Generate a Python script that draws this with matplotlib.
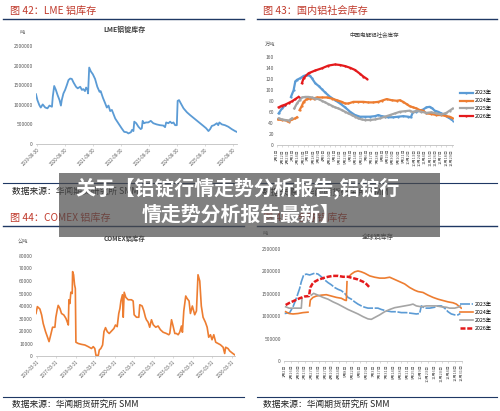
import numpy as np
import pandas as pd
import matplotlib
matplotlib.use("Agg")
import matplotlib.pyplot as plt
from matplotlib.patches import Rectangle
from matplotlib.lines import Line2D

plt.rcParams['font.family'] = ['Noto Sans CJK SC', 'DejaVu Sans']
plt.rcParams['axes.unicode_minus'] = False

nan = np.nan

# ---------------- LME inventory (tonnes) ----------------
lme_t = [2019.62, 2019.67, 2019.74, 2019.79, 2019.86, 2019.95, 2020.03, 2020.10, 2020.19, 2020.22,
         2020.27, 2020.33, 2020.39, 2020.46, 2020.51, 2020.54, 2020.60, 2020.66, 2020.72, 2020.78,
         2020.84, 2020.90, 2020.96, 2021.05, 2021.11, 2021.20, 2021.26, 2021.31, 2021.37, 2021.41,
         2021.46, 2021.48, 2021.52, 2021.58, 2021.65, 2021.73, 2021.81, 2021.89, 2021.93, 2022.01,
         2022.09, 2022.15, 2022.21, 2022.27, 2022.33, 2022.39, 2022.45, 2022.56, 2022.68, 2022.77,
         2022.86, 2022.92, 2023.01, 2023.05, 2023.10, 2023.13, 2023.20, 2023.28, 2023.36, 2023.40,
         2023.43, 2023.48, 2023.55, 2023.63, 2023.72, 2023.81, 2023.93, 2024.05, 2024.17, 2024.23,
         2024.27, 2024.35, 2024.41, 2024.47, 2024.53, 2024.59, 2024.65, 2024.68, 2024.73, 2024.79,
         2024.89, 2025.01, 2025.12, 2025.24, 2025.36, 2025.48, 2025.60, 2025.70, 2025.78, 2025.84,
         2025.90, 2025.98, 2026.08, 2026.13, 2026.17, 2026.26, 2026.37, 2026.49, 2026.61, 2026.73,
         2026.79]
lme_v = [1270000, 1120000, 990000, 930000, 1010000, 930000, 910000, 980000, 950000, 1210000,
         1480000, 1380000, 1250000, 1120000, 980000, 1120000, 1290000, 1380000, 1500000, 1630000,
         1670000, 1660000, 1570000, 1460000, 1420000, 1460000, 1380000, 1400000, 1350000, 1440000,
         1380000, 1290000, 1950000, 1850000, 1780000, 1660000, 1460000, 1330000, 1350000, 1180000,
         1040000, 930000, 980000, 840000, 870000, 760000, 650000, 530000, 400000, 310000,
         300000, 270000, 300000, 360000, 330000, 570000, 530000, 440000, 380000, 400000,
         590000, 530000, 550000, 550000, 590000, 530000, 500000, 480000, 470000, 430000,
         550000, 530000, 570000, 530000, 550000, 480000, 480000, 1100000, 1120000, 1040000,
         910000, 810000, 740000, 670000, 600000, 530000, 460000, 400000, 330000, 380000,
         460000, 480000, 530000, 480000, 550000, 500000, 480000, 440000, 380000, 330000,
         310000]
lme_xlabels = ['2019-08-30', '2020-08-30', '2021-08-30', '2022-08-30', '2023-08-30',
               '2024-08-30', '2025-08-30', '2026-08-30']
lme_yticks = [0, 500000, 1000000, 1500000, 2000000, 2500000]

# ---------------- Domestic social inventory (万吨), day of year ----------------
dom23_d = [3.4, 10.3, 17.2, 23.0, 28.9, 34.4, 37.9, 41.3, 48.2, 55.1, 62.0, 68.9, 72.3, 79.2, 86.1,
           93.0, 99.9, 110.2, 120.5, 130.9, 141.2, 151.5, 161.8, 172.2, 182.5, 192.8, 203.2, 210.1,
           216.9, 223.8, 230.7, 241.0, 251.4, 261.7, 272.0, 277.5, 282.4, 289.3, 296.1, 303.0, 309.9,
           316.8, 322.3, 327.1, 334.0, 340.9, 347.8, 354.7, 361.6, 365]
dom23_v = [58, 67, 73, nan, 88, 100, 116, 119, 122, 126, 128, 126, 122, 113, 108,
           102, 96, 88, 82, 76, 69, 61, 55, 52, 52, 52, 53, 55,
           53, 52, 51, 51, 52, 53, 52, 51, 61, 61, 63, 65, 69,
           70, 67, 63, 61, 58, 55, 51, 47, 45]
dom24_d = [1.4, 10.3, 20.7, 24.1, 31.0, 37.9, 41.3, 44.0, 46.8, 51.7, 55.1, 62.0, 68.9, 75.8, 82.6,
           93.0, 103.3, 113.6, 124.0, 134.3, 141.2, 148.1, 158.4, 168.7, 179.1, 189.4, 199.7, 210.1,
           216.9, 227.3, 237.6, 247.9, 254.8, 261.7, 268.6, 275.5, 282.4, 289.3, 296.1, 303.0, 309.9,
           320.2, 330.6, 340.9, 351.2, 358.1, 365]
dom24_v = [47, 46, 45, 43, 47, 49, 51, nan, 64, 72, 79, 84, 85, 85, 87,
           87, 87, 85, 82, 79, 76, 76, 79, 79, 79, 78, 78, 79,
           81, 84, 82, 81, 82, 79, 75, 71, 69, 67, 64, 63, 58,
           57, 55, 55, 53, 52, 49]
dom25_d = [3.4, 10.3, 17.2, 24.1, 31.0, 33.5, 35.8, 41.3, 46.8, 51.7, 58.5, 65.4, 72.3, 79.2, 86.1,
           93.0, 99.9, 106.7, 113.6, 120.5, 127.4, 134.3, 141.2, 148.1, 155.0, 161.8, 168.7, 175.6,
           182.5, 192.8, 203.2, 213.5, 223.8, 234.2, 244.5, 254.8, 265.1, 275.5, 282.4, 289.3, 299.6,
           309.9, 320.2, 330.6, 340.9, 351.2, 358.1, 365]
dom25_v = [49, 47, 46, 45, 49, nan, 67, 76, 82, 87, 88, 88, 87, 85, 84,
           81, 78, 75, 72, 69, 67, 64, 61, 58, 55, 52, 49, 47,
           46, 46, 47, 49, 52, 55, 58, 61, 62, 63, 60, 63, 61,
           59, 60, 58, 56, 59, 63, 67]
dom26_d = [3.4, 10.3, 17.2, 24.1, 31.0, 37.9, 44.8, 48.0, 51.7, 55.1, 65.4, 79.2, 93.0, 106.7,
           120.5, 130.9, 141.2, 151.5, 161.8, 172.2, 179.1, 186.0]
dom26_v = [69, 72, 74, 77, 80, 84, 88, nan, 113, 122, 131, 136, 140, 145,
           147, 146, 144, 141, 137, 130, 125, 121]
dom_xlabels = ['1月1日', '1月12日', '1月23日', '2月3日', '2月14日', '2月25日', '3月7日', '3月18日',
               '3月29日', '4月9日', '4月20日', '5月1日', '5月12日', '5月23日', '6月3日', '6月14日',
               '6月25日', '7月6日', '7月17日', '7月28日', '8月8日', '8月19日', '8月30日', '9月10日',
               '9月21日', '10月2日', '10月13日', '10月24日', '11月4日', '11月15日', '11月26日',
               '12月7日', '12月18日', '12月29日']
dom_yticks = [0, 20, 40, 60, 80, 100, 120, 140, 160]

# ---------------- COMEX inventory (metric tonnes) ----------------
comex_t = [2016.20, 2016.27, 2016.40, 2016.49, 2016.57, 2016.69, 2016.80, 2016.87, 2016.95, 2017.05,
           2017.17, 2017.22, 2017.29, 2017.34, 2017.43, 2017.51, 2017.63, 2017.74, 2017.81, 2017.86,
           2017.89, 2017.94, 2017.99, 2018.06, 2018.08, 2018.13, 2018.18, 2018.22, 2018.25, 2018.37,
           2018.54, 2018.71, 2018.88, 2019.05, 2019.14, 2019.22, 2019.28, 2019.40, 2019.45, 2019.53,
           2019.62, 2019.69, 2019.77, 2019.86, 2019.96, 2020.08, 2020.20, 2020.28, 2020.37, 2020.45,
           2020.51, 2020.56, 2020.64, 2020.68, 2020.73, 2020.81, 2020.93, 2021.10, 2021.19, 2021.24,
           2021.36, 2021.48, 2021.53, 2021.65, 2021.74, 2021.82, 2021.87, 2021.96, 2022.04, 2022.13,
           2022.22, 2022.35, 2022.47, 2022.59, 2022.73, 2022.90, 2023.02, 2023.07, 2023.16, 2023.24,
           2023.33, 2023.41, 2023.50, 2023.58, 2023.67, 2023.72, 2023.79, 2023.89, 2023.96, 2024.06,
           2024.13, 2024.23, 2024.35, 2024.44, 2024.52, 2024.61, 2024.69, 2024.78, 2024.90, 2024.99,
           2025.07, 2025.16, 2025.24, 2025.33, 2025.43, 2025.55, 2025.67, 2025.81, 2025.89, 2025.94,
           2026.06, 2026.15, 2026.27, 2026.40]
comex_v = [34000, 39500, 37600, 32800, 26000, 19500, 14700, 11500, 16500, 23000,
           23000, 31000, 37000, 40500, 38000, 34000, 32800, 30000, 27000, 24800,
           45000, 42000, 51000, 50000, 67500, 65000, 57000, 54000, 11000, 10000,
           9300, 8800, 7500, 6000, 7500, 6000, 500, 500, 4800, 6000,
           8800, 19500, 22700, 19500, 18000, 20000, 22000, 24800, 23500, 34000,
           38000, 44000, 49000, 31000, 51000, 47000, 45000, 45000, 44000, 33000,
           31000, 31000, 41000, 40000, 36000, 31000, 29000, 27000, 23000, 29000,
           25000, 23000, 24000, 21000, 19000, 18000, 17000, 18000, 29000, 24000,
           18000, 18000, 17000, 19000, 24000, 19000, 36000, 48000, 46000, 44000,
           34000, 40000, 33000, 36000, 65000, 60000, 40000, 31000, 27000, 23000,
           15000, 17000, 13000, 17000, 11000, 10000, 9000, 7000, 2000, 7000,
           6000, 4000, 2500, 1000]
comex_xlabels = ['2016-03-31', '2017-03-31', '2018-03-31', '2019-03-31', '2020-03-31', '2021-03-31',
                 '2022-03-31', '2023-03-31', '2024-03-31', '2025-03-31', '2026-03-31']
comex_yticks = [0, 10000, 20000, 30000, 40000, 50000, 60000, 70000, 80000]

# ---------------- Global inventory (tonnes), day of year ----------------
glb23_d = [1.4, 11.6, 18.5, 25.3, 32.1, 35.5, 40.3, 45.8, 52.6, 62.9, 69.7, 76.6, 83.4, 90.2, 97.1,
           103.9, 110.7, 117.6, 124.4, 131.2, 138.1, 144.9, 151.7, 158.6, 165.4, 172.2, 179.1, 185.9,
           192.7, 199.6, 209.8, 220.1, 230.3, 240.6, 250.8, 264.5, 271.3, 278.2, 281.6, 288.4, 298.7,
           308.9, 315.8, 322.6, 329.4, 336.3, 343.1, 350.0, 356.8, 361.6]
glb23_v = [1.06e6, 1.08e6, 1.21e6, 1.40e6, 1.62e6, 1.77e6, 1.92e6, 1.94e6, 1.92e6, 1.96e6, 1.94e6,
           1.88e6, 1.81e6, 1.75e6, 1.70e6, 1.64e6, 1.60e6, 1.57e6, 1.51e6, 1.42e6, 1.38e6, 1.32e6,
           1.27e6, 1.23e6, 1.20e6, 1.18e6, 1.18e6, 1.18e6, 1.18e6, 1.15e6, 1.12e6, 1.10e6, 1.10e6,
           1.08e6, 1.08e6, 1.06e6, 1.05e6, 1.06e6, 1.23e6, 1.18e6, 1.18e6, 1.20e6, 1.23e6, 1.23e6,
           1.18e6, 1.10e6, 1.05e6, 1.03e6, 1.03e6, 1.06e6]
glb24_d = [3.4, 10.3, 18.5, 28.7, 39.0, 49.2, 51.0, 52.6, 54.0, 59.5, 66.3, 76.6, 86.8, 97.1, 107.3,
           117.6, 124.4, 127.8, 129.2, 132.0, 134.6, 138.1, 144.9, 151.7, 158.6, 165.4, 175.7, 185.9,
           196.2, 206.4, 216.7, 226.9, 237.2, 247.4, 257.7, 267.9, 274.8, 285.0, 295.3, 305.5, 315.8,
           326.0, 336.3, 346.5, 353.4, 360.2, 363.6]
glb24_v = [1.10e6, 1.06e6, 1.05e6, 1.06e6, 1.08e6, 1.09e6, nan, 1.23e6, 1.36e6, 1.42e6, 1.45e6,
           1.47e6, 1.48e6, 1.45e6, 1.42e6, 1.40e6, 1.36e6, 1.35e6, 1.77e6, nan, 1.90e6, 1.94e6,
           1.99e6, 2.01e6, 1.99e6, 1.96e6, 1.90e6, 1.87e6, 1.85e6, 1.85e6, 1.87e6, 1.82e6, 1.77e6,
           1.72e6, 1.64e6, 1.58e6, 1.55e6, 1.53e6, 1.47e6, 1.42e6, 1.38e6, 1.35e6, 1.32e6, 1.30e6,
           1.27e6, 1.21e6, 1.18e6]
glb25_d = [3.4, 10.3, 25.3, 32.1, 35.5, 36.9, 45.0, 56.0, 60.8, 69.7, 80.0, 90.2, 100.5, 110.7,
           121.0, 131.2, 141.5, 151.7, 162.0, 172.2, 179.1, 185.9, 196.2, 206.4, 216.7, 226.9, 237.2,
           247.4, 257.7, 264.5, 271.3, 281.6, 291.9, 312.4, 322.6, 332.9, 339.7, 350.0, 356.8, 361.6]
glb25_v = [1.21e6, 1.18e6, 1.18e6, 1.18e6, 1.18e6, 1.40e6, nan, 1.47e6, 1.51e6, 1.47e6, 1.42e6,
           1.38e6, 1.32e6, 1.27e6, 1.21e6, 1.15e6, 1.10e6, 1.05e6, 0.99e6, 0.94e6, 0.93e6, 0.97e6,
           1.03e6, 1.10e6, 1.15e6, 1.19e6, 1.21e6, 1.23e6, 1.25e6, 1.27e6, 1.23e6, 1.21e6, 1.23e6,
           1.23e6, 1.21e6, 1.20e6, 1.18e6, 1.18e6, 1.20e6, 1.23e6]
glb26_d = [3.4, 11.6, 21.9, 32.1, 42.4, 51.3, 54.0, 58.1, 62.9, 69.7, 80.0, 90.2, 100.5, 110.7,
           121.0, 131.2, 141.5, 151.7, 162.0, 168.8, 175.7]
glb26_v = [1.25e6, 1.30e6, 1.35e6, 1.40e6, 1.44e6, 1.45e6, 1.64e6, 1.72e6, 1.77e6, 1.81e6, 1.85e6,
           1.88e6, 1.90e6, 1.90e6, 1.88e6, 1.88e6, 1.85e6, 1.82e6, 1.77e6, 1.72e6, 1.64e6]
glb_xlabels = ['1月2日', '1月16日', '1月30日', '2月13日', '2月27日', '3月13日', '3月27日', '4月10日',
               '4月24日', '5月8日', '5月22日', '6月5日', '6月19日', '7月3日', '7月17日', '7月31日',
               '8月14日', '8月28日', '9月11日', '9月25日', '10月9日', '10月23日', '11月6日',
               '11月20日', '12月4日', '12月18日', '12月31日']
glb_yticks = [0, 500000, 1000000, 1500000, 2000000, 2500000]

year_labels = ['2023年', '2024年', '2025年', '2026年']
c_blue, c_orange, c_gray, c_red = '#5B9BD5', '#ED7D31', '#A5A5A5', '#E41A1C'

# ---------------- figure ----------------
W, H = 500, 411
fig = plt.figure(figsize=(5, 4.11), dpi=100)
fig.patch.set_facecolor('white')


def ax_px(left, top, right, bottom):
    return fig.add_axes([left / W, 1 - bottom / H, (right - left) / W, (bottom - top) / H])


def style(ax):
    for s in ['top', 'right', 'left']:
        ax.spines[s].set_visible(False)
    ax.spines['bottom'].set_color('#BFBFBF')
    ax.spines['bottom'].set_linewidth(0.6)
    ax.tick_params(axis='y', length=0, labelsize=3.6, labelcolor='#595959', pad=2.2)
    ax.tick_params(axis='x', length=1.5, width=0.4, color='#BFBFBF', labelsize=3.2,
                   labelcolor='#595959', pad=1)
    ax.patch.set_alpha(0)


def dec_year(s):
    d = pd.Timestamp(s)
    return d.year + (d.dayofyear - 1) / 365.25


def doy(lbl):
    return pd.to_datetime('2023年' + lbl, format='%Y年%m月%d日').dayofyear - 1


# Panel 1: LME
ax1 = ax_px(36, 46, 237, 144)
ax1.plot(lme_t, lme_v, color=c_blue, lw=1.3)
ax1.set_xlim(2019.62, 2026.80)
ax1.set_ylim(0, 2500000)
ax1.set_yticks(lme_yticks, [str(v) for v in lme_yticks])
ax1.set_xticks([dec_year(s) for s in lme_xlabels], lme_xlabels, rotation=45, ha='right',
               rotation_mode='anchor')
style(ax1)

# Panel 2: domestic social inventory
ax2 = ax_px(277, 57.3, 453, 145.3)
for d, v, c, lab in [(dom23_d, dom23_v, c_blue, year_labels[0]),
                     (dom24_d, dom24_v, c_orange, year_labels[1]),
                     (dom25_d, dom25_v, c_gray, year_labels[2]),
                     (dom26_d, dom26_v, c_red, year_labels[3])]:
    ax2.plot(d, v, color=c, lw=1.6, marker='o', ms=1.6, mew=0, label=lab)
ax2.set_xlim(0, 365)
ax2.set_ylim(0, 160)
ax2.set_yticks(dom_yticks, [str(v) for v in dom_yticks])
ax2.set_xticks([doy(s) for s in dom_xlabels], dom_xlabels, rotation=90)
style(ax2)
ax2.tick_params(axis='x', labelsize=2.9)
ax2.legend(loc='center left', bbox_to_anchor=(1.04, 0.46), frameon=False, fontsize=3.8,
           handlelength=2.4, labelspacing=0.55, handletextpad=0.4, borderpad=0, borderaxespad=0)

# Panel 3: COMEX
ax3 = ax_px(36, 256, 235, 356)
ax3.plot(comex_t, comex_v, color=c_orange, lw=1.2)
ax3.set_xlim(2016.20, 2026.42)
ax3.set_ylim(0, 80000)
ax3.set_yticks(comex_yticks, [str(v) for v in comex_yticks])
ax3.set_xticks([dec_year(s) for s in comex_xlabels], comex_xlabels, rotation=45, ha='right',
               rotation_mode='anchor')
style(ax3)

# Panel 4: global inventory
ax4 = ax_px(284, 249, 462, 361)
ax4.plot(glb23_d, glb23_v, color=c_blue, lw=1.2, dashes=(6, 1), label=year_labels[0])
ax4.plot(glb24_d, glb24_v, color=c_orange, lw=1.2, label=year_labels[1])
ax4.plot(glb25_d, glb25_v, color=c_gray, lw=1.2, label=year_labels[2])
ax4.plot(glb26_d, glb26_v, color=c_red, lw=1.8, dashes=(2, 0.7), label=year_labels[3])
ax4.set_xlim(0, 365)
ax4.set_ylim(0, 2500000)
ax4.set_yticks(glb_yticks, [str(v) for v in glb_yticks])
ax4.set_xticks([doy(s) for s in glb_xlabels], glb_xlabels, rotation=90)
style(ax4)
ax4.tick_params(axis='x', labelsize=2.9)
ax4.legend(loc='center left', bbox_to_anchor=(0.99, 0.40), frameon=False, fontsize=3.8,
           handlelength=2.4, labelspacing=0.55, handletextpad=0.4, borderpad=0, borderaxespad=0)

# ---------------- annotations / page furniture ----------------
ann = fig.add_axes([0, 0, 1, 1], zorder=10)
ann.set_xlim(0, W)
ann.set_ylim(H, 0)
ann.axis('off')

hdr = '#C0392B'
navy = '#1F3864'
src = '数据来源：华闻期货研究所 SMM'
for x0, x1 in [(3, 244), (257, 497)]:
    ann.plot([x0, x1], [19, 19], color=navy, lw=1.0)
    ann.plot([x0, x1], [183, 183], color=navy, lw=0.8)
    ann.plot([x0, x1], [226, 226], color=navy, lw=1.0)
    ann.plot([x0, x1], [397, 397], color=navy, lw=0.8)

ann.text(10, 11, '图 42：LME 铝库存', color=hdr, fontsize=7.3, va='center', ha='left')
ann.text(263, 11, '图 43：国内铝社会库存', color=hdr, fontsize=7.3, va='center', ha='left')
ann.text(10, 218, '图 44：COMEX 铝库存', color=hdr, fontsize=7.3, va='center', ha='left')
ann.text(263, 218, '图 45：全球铝库存', color=hdr, fontsize=7.3, va='center', ha='left')

for x, y in [(12, 191), (262, 192), (12, 404), (263, 404)]:
    ann.text(x, y, src, color='#222222', fontsize=6.3, va='center', ha='left')

ann.text(125, 29, 'LME铝锭库存', color='#404040', fontsize=5, fontweight='bold', ha='center', va='center')
ann.text(374, 34, '中国电解铝社会库存', color='#404040', fontsize=4, ha='center', va='center')
ann.text(125, 238, 'COMEX铝库存', color='#404040', fontsize=4.6, fontweight='bold', ha='center', va='center')
ann.text(378, 237, '全球铝库存', color='#404040', fontsize=4.6, ha='center', va='center')

ann.text(22, 33, '吨', color='#595959', fontsize=3.8, ha='center', va='center')
ann.text(270, 44, '万吨', color='#595959', fontsize=3.8, ha='center', va='center')
ann.text(23, 242, '公吨', color='#595959', fontsize=3.8, ha='center', va='center')
ann.text(265, 233, '吨', color='#595959', fontsize=3.8, ha='center', va='center')

# overlay banner
ann.add_patch(Rectangle((59, 173), 381, 64, facecolor='#4a4a4a', alpha=0.7, edgecolor='none', zorder=20))
ann.text(238, 188, '关于【铝锭行情走势分析报告,铝锭行', color='white', fontsize=14.3,
         fontweight='bold', ha='center', va='center', zorder=21)
ann.text(241, 214, '情走势分析报告最新】', color='white', fontsize=14.3,
         fontweight='bold', ha='center', va='center', zorder=21)

fig.savefig('out.png', dpi=100)
